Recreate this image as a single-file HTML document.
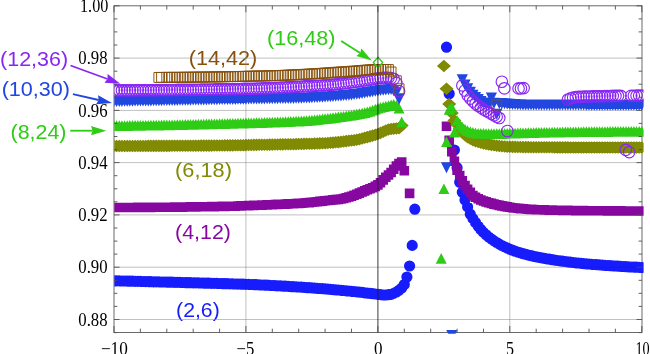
<!DOCTYPE html>
<html><head><meta charset="utf-8"><title>plot</title>
<style>
html,body{margin:0;padding:0;background:#fff;}
body{width:650px;height:354px;overflow:hidden;font-family:"Liberation Sans",sans-serif;}
svg{display:block;will-change:transform;}
</style></head><body>
<svg width="650" height="354" viewBox="0 0 650 354">
<defs><clipPath id="pc"><rect x="114.3" y="5.8" width="529.3" height="327.9"/></clipPath></defs>
<rect width="650" height="354" fill="#fff"/>
<g font-family="'Liberation Sans',sans-serif" font-size="20"><text x="0.1" y="65.7" fill="#8826f5" textLength="68" lengthAdjust="spacingAndGlyphs">(12,36)</text><text x="1.7" y="95.9" fill="#2147e0" textLength="68.3" lengthAdjust="spacingAndGlyphs">(10,30)</text><text x="10.6" y="138.5" fill="#2ecc14" textLength="55.9" lengthAdjust="spacingAndGlyphs">(8,24)</text><text x="175.1" y="176.7" fill="#808a02" textLength="56.8" lengthAdjust="spacingAndGlyphs">(6,18)</text><text x="175.1" y="238.9" fill="#8608a0" textLength="55.8" lengthAdjust="spacingAndGlyphs">(4,12)</text><text x="176.1" y="316.7" fill="#161cfb" textLength="43.6" lengthAdjust="spacingAndGlyphs">(2,6)</text><text x="188.7" y="64.5" fill="#86500a" textLength="68.6" lengthAdjust="spacingAndGlyphs">(14,42)</text><text x="267" y="45.4" fill="#2ecc14" textLength="68.5" lengthAdjust="spacingAndGlyphs">(16,48)</text></g>
<g stroke="#979797" stroke-width="0.9" stroke-opacity="0.53"><line x1="245.9" x2="245.9" y1="5.8" y2="332.5"/><line x1="509.8" x2="509.8" y1="5.8" y2="332.5"/><line x1="114" x2="642" y1="319.5" y2="319.5"/><line x1="114" x2="642" y1="267.2" y2="267.2"/><line x1="114" x2="642" y1="214.9" y2="214.9"/><line x1="114" x2="642" y1="162.6" y2="162.6"/><line x1="114" x2="642" y1="110.4" y2="110.4"/><line x1="114" x2="642" y1="58.1" y2="58.1"/></g><rect x="114" y="5.8" width="528" height="326.7" fill="none" stroke="#6a6a6a" stroke-width="1"/>
<g clip-path="url(#pc)">
<path fill="#161cfb" d="M108.4 280.8a5.6 5.6 0 1 0 11.2 0a5.6 5.6 0 1 0 -11.2 0zM111 280.9a5.6 5.6 0 1 0 11.2 0a5.6 5.6 0 1 0 -11.2 0zM113.7 280.9a5.6 5.6 0 1 0 11.2 0a5.6 5.6 0 1 0 -11.2 0zM116.3 281a5.6 5.6 0 1 0 11.2 0a5.6 5.6 0 1 0 -11.2 0zM119 281a5.6 5.6 0 1 0 11.2 0a5.6 5.6 0 1 0 -11.2 0zM121.6 281.1a5.6 5.6 0 1 0 11.2 0a5.6 5.6 0 1 0 -11.2 0zM124.2 281.2a5.6 5.6 0 1 0 11.2 0a5.6 5.6 0 1 0 -11.2 0zM126.9 281.2a5.6 5.6 0 1 0 11.2 0a5.6 5.6 0 1 0 -11.2 0zM129.5 281.3a5.6 5.6 0 1 0 11.2 0a5.6 5.6 0 1 0 -11.2 0zM132.2 281.4a5.6 5.6 0 1 0 11.2 0a5.6 5.6 0 1 0 -11.2 0zM134.8 281.4a5.6 5.6 0 1 0 11.2 0a5.6 5.6 0 1 0 -11.2 0zM137.4 281.5a5.6 5.6 0 1 0 11.2 0a5.6 5.6 0 1 0 -11.2 0zM140.1 281.6a5.6 5.6 0 1 0 11.2 0a5.6 5.6 0 1 0 -11.2 0zM142.7 281.6a5.6 5.6 0 1 0 11.2 0a5.6 5.6 0 1 0 -11.2 0zM145.3 281.7a5.6 5.6 0 1 0 11.2 0a5.6 5.6 0 1 0 -11.2 0zM148 281.8a5.6 5.6 0 1 0 11.2 0a5.6 5.6 0 1 0 -11.2 0zM150.6 281.8a5.6 5.6 0 1 0 11.2 0a5.6 5.6 0 1 0 -11.2 0zM153.3 281.9a5.6 5.6 0 1 0 11.2 0a5.6 5.6 0 1 0 -11.2 0zM155.9 282a5.6 5.6 0 1 0 11.2 0a5.6 5.6 0 1 0 -11.2 0zM158.5 282a5.6 5.6 0 1 0 11.2 0a5.6 5.6 0 1 0 -11.2 0zM161.2 282.1a5.6 5.6 0 1 0 11.2 0a5.6 5.6 0 1 0 -11.2 0zM163.8 282.2a5.6 5.6 0 1 0 11.2 0a5.6 5.6 0 1 0 -11.2 0zM166.5 282.2a5.6 5.6 0 1 0 11.2 0a5.6 5.6 0 1 0 -11.2 0zM169.1 282.3a5.6 5.6 0 1 0 11.2 0a5.6 5.6 0 1 0 -11.2 0zM171.7 282.4a5.6 5.6 0 1 0 11.2 0a5.6 5.6 0 1 0 -11.2 0zM174.4 282.4a5.6 5.6 0 1 0 11.2 0a5.6 5.6 0 1 0 -11.2 0zM177 282.5a5.6 5.6 0 1 0 11.2 0a5.6 5.6 0 1 0 -11.2 0zM179.7 282.6a5.6 5.6 0 1 0 11.2 0a5.6 5.6 0 1 0 -11.2 0zM182.3 282.7a5.6 5.6 0 1 0 11.2 0a5.6 5.6 0 1 0 -11.2 0zM184.9 282.7a5.6 5.6 0 1 0 11.2 0a5.6 5.6 0 1 0 -11.2 0zM187.6 282.8a5.6 5.6 0 1 0 11.2 0a5.6 5.6 0 1 0 -11.2 0zM190.2 282.9a5.6 5.6 0 1 0 11.2 0a5.6 5.6 0 1 0 -11.2 0zM192.8 282.9a5.6 5.6 0 1 0 11.2 0a5.6 5.6 0 1 0 -11.2 0zM195.5 283a5.6 5.6 0 1 0 11.2 0a5.6 5.6 0 1 0 -11.2 0zM198.1 283.1a5.6 5.6 0 1 0 11.2 0a5.6 5.6 0 1 0 -11.2 0zM200.8 283.2a5.6 5.6 0 1 0 11.2 0a5.6 5.6 0 1 0 -11.2 0zM203.4 283.2a5.6 5.6 0 1 0 11.2 0a5.6 5.6 0 1 0 -11.2 0zM206 283.3a5.6 5.6 0 1 0 11.2 0a5.6 5.6 0 1 0 -11.2 0zM208.7 283.4a5.6 5.6 0 1 0 11.2 0a5.6 5.6 0 1 0 -11.2 0zM211.3 283.4a5.6 5.6 0 1 0 11.2 0a5.6 5.6 0 1 0 -11.2 0zM214 283.5a5.6 5.6 0 1 0 11.2 0a5.6 5.6 0 1 0 -11.2 0zM216.6 283.6a5.6 5.6 0 1 0 11.2 0a5.6 5.6 0 1 0 -11.2 0zM219.2 283.7a5.6 5.6 0 1 0 11.2 0a5.6 5.6 0 1 0 -11.2 0zM221.9 283.7a5.6 5.6 0 1 0 11.2 0a5.6 5.6 0 1 0 -11.2 0zM224.5 283.8a5.6 5.6 0 1 0 11.2 0a5.6 5.6 0 1 0 -11.2 0zM227.2 283.9a5.6 5.6 0 1 0 11.2 0a5.6 5.6 0 1 0 -11.2 0zM229.8 284a5.6 5.6 0 1 0 11.2 0a5.6 5.6 0 1 0 -11.2 0zM232.4 284.1a5.6 5.6 0 1 0 11.2 0a5.6 5.6 0 1 0 -11.2 0zM235.1 284.1a5.6 5.6 0 1 0 11.2 0a5.6 5.6 0 1 0 -11.2 0zM237.7 284.2a5.6 5.6 0 1 0 11.2 0a5.6 5.6 0 1 0 -11.2 0zM240.3 284.3a5.6 5.6 0 1 0 11.2 0a5.6 5.6 0 1 0 -11.2 0zM243 284.4a5.6 5.6 0 1 0 11.2 0a5.6 5.6 0 1 0 -11.2 0zM245.6 284.5a5.6 5.6 0 1 0 11.2 0a5.6 5.6 0 1 0 -11.2 0zM248.3 284.6a5.6 5.6 0 1 0 11.2 0a5.6 5.6 0 1 0 -11.2 0zM250.9 284.7a5.6 5.6 0 1 0 11.2 0a5.6 5.6 0 1 0 -11.2 0zM253.5 284.9a5.6 5.6 0 1 0 11.2 0a5.6 5.6 0 1 0 -11.2 0zM256.2 285a5.6 5.6 0 1 0 11.2 0a5.6 5.6 0 1 0 -11.2 0zM258.8 285.1a5.6 5.6 0 1 0 11.2 0a5.6 5.6 0 1 0 -11.2 0zM261.5 285.2a5.6 5.6 0 1 0 11.2 0a5.6 5.6 0 1 0 -11.2 0zM264.1 285.4a5.6 5.6 0 1 0 11.2 0a5.6 5.6 0 1 0 -11.2 0zM266.7 285.5a5.6 5.6 0 1 0 11.2 0a5.6 5.6 0 1 0 -11.2 0zM269.4 285.6a5.6 5.6 0 1 0 11.2 0a5.6 5.6 0 1 0 -11.2 0zM272 285.8a5.6 5.6 0 1 0 11.2 0a5.6 5.6 0 1 0 -11.2 0zM274.7 285.9a5.6 5.6 0 1 0 11.2 0a5.6 5.6 0 1 0 -11.2 0zM277.3 286.1a5.6 5.6 0 1 0 11.2 0a5.6 5.6 0 1 0 -11.2 0zM279.9 286.2a5.6 5.6 0 1 0 11.2 0a5.6 5.6 0 1 0 -11.2 0zM282.6 286.4a5.6 5.6 0 1 0 11.2 0a5.6 5.6 0 1 0 -11.2 0zM285.2 286.6a5.6 5.6 0 1 0 11.2 0a5.6 5.6 0 1 0 -11.2 0zM287.9 286.7a5.6 5.6 0 1 0 11.2 0a5.6 5.6 0 1 0 -11.2 0zM290.5 286.9a5.6 5.6 0 1 0 11.2 0a5.6 5.6 0 1 0 -11.2 0zM293.1 287a5.6 5.6 0 1 0 11.2 0a5.6 5.6 0 1 0 -11.2 0zM295.8 287.2a5.6 5.6 0 1 0 11.2 0a5.6 5.6 0 1 0 -11.2 0zM298.4 287.4a5.6 5.6 0 1 0 11.2 0a5.6 5.6 0 1 0 -11.2 0zM301 287.6a5.6 5.6 0 1 0 11.2 0a5.6 5.6 0 1 0 -11.2 0zM303.7 287.7a5.6 5.6 0 1 0 11.2 0a5.6 5.6 0 1 0 -11.2 0zM306.3 287.9a5.6 5.6 0 1 0 11.2 0a5.6 5.6 0 1 0 -11.2 0zM309 288.1a5.6 5.6 0 1 0 11.2 0a5.6 5.6 0 1 0 -11.2 0zM311.6 288.3a5.6 5.6 0 1 0 11.2 0a5.6 5.6 0 1 0 -11.2 0zM314.2 288.5a5.6 5.6 0 1 0 11.2 0a5.6 5.6 0 1 0 -11.2 0zM316.9 288.7a5.6 5.6 0 1 0 11.2 0a5.6 5.6 0 1 0 -11.2 0zM319.5 288.9a5.6 5.6 0 1 0 11.2 0a5.6 5.6 0 1 0 -11.2 0zM322.2 289.1a5.6 5.6 0 1 0 11.2 0a5.6 5.6 0 1 0 -11.2 0zM324.8 289.4a5.6 5.6 0 1 0 11.2 0a5.6 5.6 0 1 0 -11.2 0zM327.4 289.6a5.6 5.6 0 1 0 11.2 0a5.6 5.6 0 1 0 -11.2 0zM330.1 289.8a5.6 5.6 0 1 0 11.2 0a5.6 5.6 0 1 0 -11.2 0zM332.7 290a5.6 5.6 0 1 0 11.2 0a5.6 5.6 0 1 0 -11.2 0zM335.4 290.3a5.6 5.6 0 1 0 11.2 0a5.6 5.6 0 1 0 -11.2 0zM338 290.5a5.6 5.6 0 1 0 11.2 0a5.6 5.6 0 1 0 -11.2 0zM340.6 290.8a5.6 5.6 0 1 0 11.2 0a5.6 5.6 0 1 0 -11.2 0zM343.3 291a5.6 5.6 0 1 0 11.2 0a5.6 5.6 0 1 0 -11.2 0zM345.9 291.3a5.6 5.6 0 1 0 11.2 0a5.6 5.6 0 1 0 -11.2 0zM348.5 291.5a5.6 5.6 0 1 0 11.2 0a5.6 5.6 0 1 0 -11.2 0zM351.2 291.8a5.6 5.6 0 1 0 11.2 0a5.6 5.6 0 1 0 -11.2 0zM353.8 292.1a5.6 5.6 0 1 0 11.2 0a5.6 5.6 0 1 0 -11.2 0zM356.5 292.4a5.6 5.6 0 1 0 11.2 0a5.6 5.6 0 1 0 -11.2 0zM359.1 292.8a5.6 5.6 0 1 0 11.2 0a5.6 5.6 0 1 0 -11.2 0zM361.7 293.1a5.6 5.6 0 1 0 11.2 0a5.6 5.6 0 1 0 -11.2 0zM364.4 293.4a5.6 5.6 0 1 0 11.2 0a5.6 5.6 0 1 0 -11.2 0zM367 293.7a5.6 5.6 0 1 0 11.2 0a5.6 5.6 0 1 0 -11.2 0zM369.7 294a5.6 5.6 0 1 0 11.2 0a5.6 5.6 0 1 0 -11.2 0zM372.3 294.3a5.6 5.6 0 1 0 11.2 0a5.6 5.6 0 1 0 -11.2 0zM374.9 294.6a5.6 5.6 0 1 0 11.2 0a5.6 5.6 0 1 0 -11.2 0zM377.6 295a5.6 5.6 0 1 0 11.2 0a5.6 5.6 0 1 0 -11.2 0zM380.2 295a5.6 5.6 0 1 0 11.2 0a5.6 5.6 0 1 0 -11.2 0zM382.9 294.7a5.6 5.6 0 1 0 11.2 0a5.6 5.6 0 1 0 -11.2 0zM385.5 294.3a5.6 5.6 0 1 0 11.2 0a5.6 5.6 0 1 0 -11.2 0zM388.1 293.4a5.6 5.6 0 1 0 11.2 0a5.6 5.6 0 1 0 -11.2 0zM390.8 292a5.6 5.6 0 1 0 11.2 0a5.6 5.6 0 1 0 -11.2 0zM393.4 290.3a5.6 5.6 0 1 0 11.2 0a5.6 5.6 0 1 0 -11.2 0zM396.1 288a5.6 5.6 0 1 0 11.2 0a5.6 5.6 0 1 0 -11.2 0zM398.7 284.5a5.6 5.6 0 1 0 11.2 0a5.6 5.6 0 1 0 -11.2 0zM401.3 277a5.6 5.6 0 1 0 11.2 0a5.6 5.6 0 1 0 -11.2 0zM404 266a5.6 5.6 0 1 0 11.2 0a5.6 5.6 0 1 0 -11.2 0zM406.6 245.4a5.6 5.6 0 1 0 11.2 0a5.6 5.6 0 1 0 -11.2 0zM409.2 209.2a5.6 5.6 0 1 0 11.2 0a5.6 5.6 0 1 0 -11.2 0zM440.9 47.2a5.6 5.6 0 1 0 11.2 0a5.6 5.6 0 1 0 -11.2 0zM443.6 93.7a5.6 5.6 0 1 0 11.2 0a5.6 5.6 0 1 0 -11.2 0zM448.8 150a5.6 5.6 0 1 0 11.2 0a5.6 5.6 0 1 0 -11.2 0zM451.5 167.7a5.6 5.6 0 1 0 11.2 0a5.6 5.6 0 1 0 -11.2 0zM454.1 182.3a5.6 5.6 0 1 0 11.2 0a5.6 5.6 0 1 0 -11.2 0zM456.7 192.3a5.6 5.6 0 1 0 11.2 0a5.6 5.6 0 1 0 -11.2 0zM459.4 200a5.6 5.6 0 1 0 11.2 0a5.6 5.6 0 1 0 -11.2 0zM462 206.9a5.6 5.6 0 1 0 11.2 0a5.6 5.6 0 1 0 -11.2 0zM464.7 214.2a5.6 5.6 0 1 0 11.2 0a5.6 5.6 0 1 0 -11.2 0zM467.3 218.6a5.6 5.6 0 1 0 11.2 0a5.6 5.6 0 1 0 -11.2 0zM469.9 222.5a5.6 5.6 0 1 0 11.2 0a5.6 5.6 0 1 0 -11.2 0zM472.6 226.2a5.6 5.6 0 1 0 11.2 0a5.6 5.6 0 1 0 -11.2 0zM475.2 229.5a5.6 5.6 0 1 0 11.2 0a5.6 5.6 0 1 0 -11.2 0zM477.9 232.4a5.6 5.6 0 1 0 11.2 0a5.6 5.6 0 1 0 -11.2 0zM480.5 234.8a5.6 5.6 0 1 0 11.2 0a5.6 5.6 0 1 0 -11.2 0zM483.1 237a5.6 5.6 0 1 0 11.2 0a5.6 5.6 0 1 0 -11.2 0zM485.8 239a5.6 5.6 0 1 0 11.2 0a5.6 5.6 0 1 0 -11.2 0zM488.4 240.9a5.6 5.6 0 1 0 11.2 0a5.6 5.6 0 1 0 -11.2 0zM491.1 242.5a5.6 5.6 0 1 0 11.2 0a5.6 5.6 0 1 0 -11.2 0zM493.7 244.1a5.6 5.6 0 1 0 11.2 0a5.6 5.6 0 1 0 -11.2 0zM496.3 245.5a5.6 5.6 0 1 0 11.2 0a5.6 5.6 0 1 0 -11.2 0zM499 246.8a5.6 5.6 0 1 0 11.2 0a5.6 5.6 0 1 0 -11.2 0zM501.6 248.1a5.6 5.6 0 1 0 11.2 0a5.6 5.6 0 1 0 -11.2 0zM504.2 249.2a5.6 5.6 0 1 0 11.2 0a5.6 5.6 0 1 0 -11.2 0zM506.9 250.2a5.6 5.6 0 1 0 11.2 0a5.6 5.6 0 1 0 -11.2 0zM509.5 251.2a5.6 5.6 0 1 0 11.2 0a5.6 5.6 0 1 0 -11.2 0zM512.2 252.1a5.6 5.6 0 1 0 11.2 0a5.6 5.6 0 1 0 -11.2 0zM514.8 252.9a5.6 5.6 0 1 0 11.2 0a5.6 5.6 0 1 0 -11.2 0zM517.4 253.7a5.6 5.6 0 1 0 11.2 0a5.6 5.6 0 1 0 -11.2 0zM520.1 254.4a5.6 5.6 0 1 0 11.2 0a5.6 5.6 0 1 0 -11.2 0zM522.7 255.1a5.6 5.6 0 1 0 11.2 0a5.6 5.6 0 1 0 -11.2 0zM525.4 255.7a5.6 5.6 0 1 0 11.2 0a5.6 5.6 0 1 0 -11.2 0zM528 256.3a5.6 5.6 0 1 0 11.2 0a5.6 5.6 0 1 0 -11.2 0zM530.6 256.8a5.6 5.6 0 1 0 11.2 0a5.6 5.6 0 1 0 -11.2 0zM533.3 257.4a5.6 5.6 0 1 0 11.2 0a5.6 5.6 0 1 0 -11.2 0zM535.9 257.9a5.6 5.6 0 1 0 11.2 0a5.6 5.6 0 1 0 -11.2 0zM538.6 258.3a5.6 5.6 0 1 0 11.2 0a5.6 5.6 0 1 0 -11.2 0zM541.2 258.8a5.6 5.6 0 1 0 11.2 0a5.6 5.6 0 1 0 -11.2 0zM543.8 259.2a5.6 5.6 0 1 0 11.2 0a5.6 5.6 0 1 0 -11.2 0zM546.5 259.7a5.6 5.6 0 1 0 11.2 0a5.6 5.6 0 1 0 -11.2 0zM549.1 260.1a5.6 5.6 0 1 0 11.2 0a5.6 5.6 0 1 0 -11.2 0zM551.8 260.5a5.6 5.6 0 1 0 11.2 0a5.6 5.6 0 1 0 -11.2 0zM554.4 260.8a5.6 5.6 0 1 0 11.2 0a5.6 5.6 0 1 0 -11.2 0zM557 261.2a5.6 5.6 0 1 0 11.2 0a5.6 5.6 0 1 0 -11.2 0zM559.7 261.5a5.6 5.6 0 1 0 11.2 0a5.6 5.6 0 1 0 -11.2 0zM562.3 261.9a5.6 5.6 0 1 0 11.2 0a5.6 5.6 0 1 0 -11.2 0zM564.9 262.2a5.6 5.6 0 1 0 11.2 0a5.6 5.6 0 1 0 -11.2 0zM567.6 262.5a5.6 5.6 0 1 0 11.2 0a5.6 5.6 0 1 0 -11.2 0zM570.2 262.8a5.6 5.6 0 1 0 11.2 0a5.6 5.6 0 1 0 -11.2 0zM572.9 263a5.6 5.6 0 1 0 11.2 0a5.6 5.6 0 1 0 -11.2 0zM575.5 263.3a5.6 5.6 0 1 0 11.2 0a5.6 5.6 0 1 0 -11.2 0zM578.1 263.6a5.6 5.6 0 1 0 11.2 0a5.6 5.6 0 1 0 -11.2 0zM580.8 263.8a5.6 5.6 0 1 0 11.2 0a5.6 5.6 0 1 0 -11.2 0zM583.4 264a5.6 5.6 0 1 0 11.2 0a5.6 5.6 0 1 0 -11.2 0zM586.1 264.3a5.6 5.6 0 1 0 11.2 0a5.6 5.6 0 1 0 -11.2 0zM588.7 264.5a5.6 5.6 0 1 0 11.2 0a5.6 5.6 0 1 0 -11.2 0zM591.3 264.7a5.6 5.6 0 1 0 11.2 0a5.6 5.6 0 1 0 -11.2 0zM594 264.9a5.6 5.6 0 1 0 11.2 0a5.6 5.6 0 1 0 -11.2 0zM596.6 265.1a5.6 5.6 0 1 0 11.2 0a5.6 5.6 0 1 0 -11.2 0zM599.3 265.3a5.6 5.6 0 1 0 11.2 0a5.6 5.6 0 1 0 -11.2 0zM601.9 265.5a5.6 5.6 0 1 0 11.2 0a5.6 5.6 0 1 0 -11.2 0zM604.5 265.7a5.6 5.6 0 1 0 11.2 0a5.6 5.6 0 1 0 -11.2 0zM607.2 265.9a5.6 5.6 0 1 0 11.2 0a5.6 5.6 0 1 0 -11.2 0zM609.8 266a5.6 5.6 0 1 0 11.2 0a5.6 5.6 0 1 0 -11.2 0zM612.4 266.2a5.6 5.6 0 1 0 11.2 0a5.6 5.6 0 1 0 -11.2 0zM615.1 266.4a5.6 5.6 0 1 0 11.2 0a5.6 5.6 0 1 0 -11.2 0zM617.7 266.5a5.6 5.6 0 1 0 11.2 0a5.6 5.6 0 1 0 -11.2 0zM620.4 266.7a5.6 5.6 0 1 0 11.2 0a5.6 5.6 0 1 0 -11.2 0zM623 266.8a5.6 5.6 0 1 0 11.2 0a5.6 5.6 0 1 0 -11.2 0zM625.6 267a5.6 5.6 0 1 0 11.2 0a5.6 5.6 0 1 0 -11.2 0zM628.3 267.1a5.6 5.6 0 1 0 11.2 0a5.6 5.6 0 1 0 -11.2 0zM630.9 267.2a5.6 5.6 0 1 0 11.2 0a5.6 5.6 0 1 0 -11.2 0zM633.6 267.4a5.6 5.6 0 1 0 11.2 0a5.6 5.6 0 1 0 -11.2 0zM636.2 267.5a5.6 5.6 0 1 0 11.2 0a5.6 5.6 0 1 0 -11.2 0z"/>
<path fill="#8608a0" d="M109.2 202.7h9.6v9.6h-9.6zM111.8 202.7h9.6v9.6h-9.6zM114.5 202.7h9.6v9.6h-9.6zM117.1 202.7h9.6v9.6h-9.6zM119.8 202.7h9.6v9.6h-9.6zM122.4 202.7h9.6v9.6h-9.6zM125 202.7h9.6v9.6h-9.6zM127.7 202.7h9.6v9.6h-9.6zM130.3 202.7h9.6v9.6h-9.6zM133 202.6h9.6v9.6h-9.6zM135.6 202.6h9.6v9.6h-9.6zM138.2 202.6h9.6v9.6h-9.6zM140.9 202.6h9.6v9.6h-9.6zM143.5 202.6h9.6v9.6h-9.6zM146.1 202.6h9.6v9.6h-9.6zM148.8 202.5h9.6v9.6h-9.6zM151.4 202.5h9.6v9.6h-9.6zM154.1 202.5h9.6v9.6h-9.6zM156.7 202.5h9.6v9.6h-9.6zM159.3 202.5h9.6v9.6h-9.6zM162 202.4h9.6v9.6h-9.6zM164.6 202.4h9.6v9.6h-9.6zM167.3 202.4h9.6v9.6h-9.6zM169.9 202.3h9.6v9.6h-9.6zM172.5 202.3h9.6v9.6h-9.6zM175.2 202.3h9.6v9.6h-9.6zM177.8 202.3h9.6v9.6h-9.6zM180.5 202.2h9.6v9.6h-9.6zM183.1 202.2h9.6v9.6h-9.6zM185.7 202.1h9.6v9.6h-9.6zM188.4 202.1h9.6v9.6h-9.6zM191 202.1h9.6v9.6h-9.6zM193.6 202h9.6v9.6h-9.6zM196.3 202h9.6v9.6h-9.6zM198.9 202h9.6v9.6h-9.6zM201.6 201.9h9.6v9.6h-9.6zM204.2 201.9h9.6v9.6h-9.6zM206.8 201.8h9.6v9.6h-9.6zM209.5 201.8h9.6v9.6h-9.6zM212.1 201.7h9.6v9.6h-9.6zM214.8 201.7h9.6v9.6h-9.6zM217.4 201.6h9.6v9.6h-9.6zM220 201.6h9.6v9.6h-9.6zM222.7 201.5h9.6v9.6h-9.6zM225.3 201.5h9.6v9.6h-9.6zM228 201.4h9.6v9.6h-9.6zM230.6 201.4h9.6v9.6h-9.6zM233.2 201.2h9.6v9.6h-9.6zM235.9 201.1h9.6v9.6h-9.6zM238.5 201h9.6v9.6h-9.6zM241.1 200.9h9.6v9.6h-9.6zM243.8 200.8h9.6v9.6h-9.6zM246.4 200.7h9.6v9.6h-9.6zM249.1 200.6h9.6v9.6h-9.6zM251.7 200.5h9.6v9.6h-9.6zM254.3 200.4h9.6v9.6h-9.6zM257 200.3h9.6v9.6h-9.6zM259.6 200.2h9.6v9.6h-9.6zM262.3 200.1h9.6v9.6h-9.6zM264.9 200h9.6v9.6h-9.6zM267.5 199.9h9.6v9.6h-9.6zM270.2 199.7h9.6v9.6h-9.6zM272.8 199.6h9.6v9.6h-9.6zM275.5 199.5h9.6v9.6h-9.6zM278.1 199.4h9.6v9.6h-9.6zM280.7 199.3h9.6v9.6h-9.6zM283.4 199.1h9.6v9.6h-9.6zM286 199h9.6v9.6h-9.6zM288.7 198.9h9.6v9.6h-9.6zM291.3 198.7h9.6v9.6h-9.6zM293.9 198.6h9.6v9.6h-9.6zM296.6 198.4h9.6v9.6h-9.6zM299.2 198.2h9.6v9.6h-9.6zM301.8 198h9.6v9.6h-9.6zM304.5 197.8h9.6v9.6h-9.6zM307.1 197.5h9.6v9.6h-9.6zM309.8 197.2h9.6v9.6h-9.6zM312.4 196.9h9.6v9.6h-9.6zM315 196.6h9.6v9.6h-9.6zM317.7 196.3h9.6v9.6h-9.6zM320.3 196h9.6v9.6h-9.6zM323 195.7h9.6v9.6h-9.6zM325.6 195.4h9.6v9.6h-9.6zM328.2 195.1h9.6v9.6h-9.6zM330.9 194.8h9.6v9.6h-9.6zM333.5 194.6h9.6v9.6h-9.6zM336.2 194.2h9.6v9.6h-9.6zM338.8 193.7h9.6v9.6h-9.6zM341.4 193h9.6v9.6h-9.6zM344.1 192.2h9.6v9.6h-9.6zM346.7 191.4h9.6v9.6h-9.6zM349.3 190.4h9.6v9.6h-9.6zM352 189.4h9.6v9.6h-9.6zM354.6 188.3h9.6v9.6h-9.6zM357.3 187.2h9.6v9.6h-9.6zM359.9 186.1h9.6v9.6h-9.6zM362.5 185h9.6v9.6h-9.6zM365.2 184h9.6v9.6h-9.6zM367.8 182.9h9.6v9.6h-9.6zM370.5 181.6h9.6v9.6h-9.6zM373.1 180.1h9.6v9.6h-9.6zM375.7 177.9h9.6v9.6h-9.6zM378.4 175.1h9.6v9.6h-9.6zM381 172.4h9.6v9.6h-9.6zM383.7 170.2h9.6v9.6h-9.6zM386.3 167.7h9.6v9.6h-9.6zM388.9 164.5h9.6v9.6h-9.6zM391.6 161.2h9.6v9.6h-9.6zM394.2 158.7h9.6v9.6h-9.6zM396.9 157.2h9.6v9.6h-9.6zM399.5 165.9h9.6v9.6h-9.6zM404.8 188.6h9.6v9.6h-9.6zM441.7 121.5h9.6v9.6h-9.6zM444.4 135.6h9.6v9.6h-9.6zM447 146.8h9.6v9.6h-9.6zM449.6 156.5h9.6v9.6h-9.6zM452.3 165.3h9.6v9.6h-9.6zM454.9 170.7h9.6v9.6h-9.6zM457.5 176.1h9.6v9.6h-9.6zM460.2 180.7h9.6v9.6h-9.6zM462.8 184.5h9.6v9.6h-9.6zM465.5 187.6h9.6v9.6h-9.6zM468.1 190.7h9.6v9.6h-9.6zM470.7 192.5h9.6v9.6h-9.6zM473.4 194h9.6v9.6h-9.6zM476 195.2h9.6v9.6h-9.6zM478.7 196.2h9.6v9.6h-9.6zM481.3 197.1h9.6v9.6h-9.6zM483.9 197.9h9.6v9.6h-9.6zM486.6 198.6h9.6v9.6h-9.6zM489.2 199.3h9.6v9.6h-9.6zM491.9 200h9.6v9.6h-9.6zM494.5 200.6h9.6v9.6h-9.6zM497.1 201.1h9.6v9.6h-9.6zM499.8 201.6h9.6v9.6h-9.6zM502.4 202.1h9.6v9.6h-9.6zM505 202.5h9.6v9.6h-9.6zM507.7 202.9h9.6v9.6h-9.6zM510.3 203.2h9.6v9.6h-9.6zM513 203.5h9.6v9.6h-9.6zM515.6 203.8h9.6v9.6h-9.6zM518.2 204h9.6v9.6h-9.6zM520.9 204.2h9.6v9.6h-9.6zM523.5 204.4h9.6v9.6h-9.6zM526.2 204.6h9.6v9.6h-9.6zM528.8 204.7h9.6v9.6h-9.6zM531.4 204.9h9.6v9.6h-9.6zM534.1 205h9.6v9.6h-9.6zM536.7 205h9.6v9.6h-9.6zM539.4 205.1h9.6v9.6h-9.6zM542 205.2h9.6v9.6h-9.6zM544.6 205.3h9.6v9.6h-9.6zM547.3 205.3h9.6v9.6h-9.6zM549.9 205.4h9.6v9.6h-9.6zM552.6 205.4h9.6v9.6h-9.6zM555.2 205.5h9.6v9.6h-9.6zM557.8 205.6h9.6v9.6h-9.6zM560.5 205.6h9.6v9.6h-9.6zM563.1 205.6h9.6v9.6h-9.6zM565.7 205.7h9.6v9.6h-9.6zM568.4 205.7h9.6v9.6h-9.6zM571 205.8h9.6v9.6h-9.6zM573.7 205.8h9.6v9.6h-9.6zM576.3 205.8h9.6v9.6h-9.6zM578.9 205.8h9.6v9.6h-9.6zM581.6 205.9h9.6v9.6h-9.6zM584.2 205.9h9.6v9.6h-9.6zM586.9 205.9h9.6v9.6h-9.6zM589.5 205.9h9.6v9.6h-9.6zM592.1 206h9.6v9.6h-9.6zM594.8 206h9.6v9.6h-9.6zM597.4 206h9.6v9.6h-9.6zM600.1 206h9.6v9.6h-9.6zM602.7 206.1h9.6v9.6h-9.6zM605.3 206.1h9.6v9.6h-9.6zM608 206.1h9.6v9.6h-9.6zM610.6 206.1h9.6v9.6h-9.6zM613.2 206.1h9.6v9.6h-9.6zM615.9 206.1h9.6v9.6h-9.6zM618.5 206.2h9.6v9.6h-9.6zM621.2 206.2h9.6v9.6h-9.6zM623.8 206.2h9.6v9.6h-9.6zM626.4 206.2h9.6v9.6h-9.6zM629.1 206.2h9.6v9.6h-9.6zM631.7 206.2h9.6v9.6h-9.6zM634.4 206.2h9.6v9.6h-9.6zM637 206.2h9.6v9.6h-9.6z"/>
<path fill="#808a02" d="M114 139.7l7.0 6.3l-7.0 6.3l-7.0 -6.3zM116.6 139.7l7.0 6.3l-7.0 6.3l-7.0 -6.3zM119.3 139.7l7.0 6.3l-7.0 6.3l-7.0 -6.3zM121.9 139.7l7.0 6.3l-7.0 6.3l-7.0 -6.3zM124.6 139.7l7.0 6.3l-7.0 6.3l-7.0 -6.3zM127.2 139.7l7.0 6.3l-7.0 6.3l-7.0 -6.3zM129.8 139.7l7.0 6.3l-7.0 6.3l-7.0 -6.3zM132.5 139.7l7.0 6.3l-7.0 6.3l-7.0 -6.3zM135.1 139.7l7.0 6.3l-7.0 6.3l-7.0 -6.3zM137.8 139.7l7.0 6.3l-7.0 6.3l-7.0 -6.3zM140.4 139.7l7.0 6.3l-7.0 6.3l-7.0 -6.3zM143 139.7l7.0 6.3l-7.0 6.3l-7.0 -6.3zM145.7 139.7l7.0 6.3l-7.0 6.3l-7.0 -6.3zM148.3 139.6l7.0 6.3l-7.0 6.3l-7.0 -6.3zM150.9 139.6l7.0 6.3l-7.0 6.3l-7.0 -6.3zM153.6 139.6l7.0 6.3l-7.0 6.3l-7.0 -6.3zM156.2 139.6l7.0 6.3l-7.0 6.3l-7.0 -6.3zM158.9 139.6l7.0 6.3l-7.0 6.3l-7.0 -6.3zM161.5 139.6l7.0 6.3l-7.0 6.3l-7.0 -6.3zM164.1 139.6l7.0 6.3l-7.0 6.3l-7.0 -6.3zM166.8 139.6l7.0 6.3l-7.0 6.3l-7.0 -6.3zM169.4 139.6l7.0 6.3l-7.0 6.3l-7.0 -6.3zM172.1 139.5l7.0 6.3l-7.0 6.3l-7.0 -6.3zM174.7 139.5l7.0 6.3l-7.0 6.3l-7.0 -6.3zM177.3 139.5l7.0 6.3l-7.0 6.3l-7.0 -6.3zM180 139.5l7.0 6.3l-7.0 6.3l-7.0 -6.3zM182.6 139.5l7.0 6.3l-7.0 6.3l-7.0 -6.3zM185.3 139.5l7.0 6.3l-7.0 6.3l-7.0 -6.3zM187.9 139.4l7.0 6.3l-7.0 6.3l-7.0 -6.3zM190.5 139.4l7.0 6.3l-7.0 6.3l-7.0 -6.3zM193.2 139.4l7.0 6.3l-7.0 6.3l-7.0 -6.3zM195.8 139.4l7.0 6.3l-7.0 6.3l-7.0 -6.3zM198.4 139.4l7.0 6.3l-7.0 6.3l-7.0 -6.3zM201.1 139.3l7.0 6.3l-7.0 6.3l-7.0 -6.3zM203.7 139.3l7.0 6.3l-7.0 6.3l-7.0 -6.3zM206.4 139.3l7.0 6.3l-7.0 6.3l-7.0 -6.3zM209 139.3l7.0 6.3l-7.0 6.3l-7.0 -6.3zM211.6 139.3l7.0 6.3l-7.0 6.3l-7.0 -6.3zM214.3 139.2l7.0 6.3l-7.0 6.3l-7.0 -6.3zM216.9 139.2l7.0 6.3l-7.0 6.3l-7.0 -6.3zM219.6 139.2l7.0 6.3l-7.0 6.3l-7.0 -6.3zM222.2 139.2l7.0 6.3l-7.0 6.3l-7.0 -6.3zM224.8 139.1l7.0 6.3l-7.0 6.3l-7.0 -6.3zM227.5 139.1l7.0 6.3l-7.0 6.3l-7.0 -6.3zM230.1 139.1l7.0 6.3l-7.0 6.3l-7.0 -6.3zM232.8 139.1l7.0 6.3l-7.0 6.3l-7.0 -6.3zM235.4 139l7.0 6.3l-7.0 6.3l-7.0 -6.3zM238 139l7.0 6.3l-7.0 6.3l-7.0 -6.3zM240.7 138.9l7.0 6.3l-7.0 6.3l-7.0 -6.3zM243.3 138.9l7.0 6.3l-7.0 6.3l-7.0 -6.3zM245.9 138.8l7.0 6.3l-7.0 6.3l-7.0 -6.3zM248.6 138.7l7.0 6.3l-7.0 6.3l-7.0 -6.3zM251.2 138.7l7.0 6.3l-7.0 6.3l-7.0 -6.3zM253.9 138.6l7.0 6.3l-7.0 6.3l-7.0 -6.3zM256.5 138.6l7.0 6.3l-7.0 6.3l-7.0 -6.3zM259.1 138.5l7.0 6.3l-7.0 6.3l-7.0 -6.3zM261.8 138.5l7.0 6.3l-7.0 6.3l-7.0 -6.3zM264.4 138.4l7.0 6.3l-7.0 6.3l-7.0 -6.3zM267.1 138.4l7.0 6.3l-7.0 6.3l-7.0 -6.3zM269.7 138.3l7.0 6.3l-7.0 6.3l-7.0 -6.3zM272.3 138.3l7.0 6.3l-7.0 6.3l-7.0 -6.3zM275 138.2l7.0 6.3l-7.0 6.3l-7.0 -6.3zM277.6 138.2l7.0 6.3l-7.0 6.3l-7.0 -6.3zM280.3 138.1l7.0 6.3l-7.0 6.3l-7.0 -6.3zM282.9 138.1l7.0 6.3l-7.0 6.3l-7.0 -6.3zM285.5 138l7.0 6.3l-7.0 6.3l-7.0 -6.3zM288.2 138l7.0 6.3l-7.0 6.3l-7.0 -6.3zM290.8 137.9l7.0 6.3l-7.0 6.3l-7.0 -6.3zM293.5 137.9l7.0 6.3l-7.0 6.3l-7.0 -6.3zM296.1 137.8l7.0 6.3l-7.0 6.3l-7.0 -6.3zM298.7 137.7l7.0 6.3l-7.0 6.3l-7.0 -6.3zM301.4 137.7l7.0 6.3l-7.0 6.3l-7.0 -6.3zM304 137.6l7.0 6.3l-7.0 6.3l-7.0 -6.3zM306.6 137.5l7.0 6.3l-7.0 6.3l-7.0 -6.3zM309.3 137.5l7.0 6.3l-7.0 6.3l-7.0 -6.3zM311.9 137.4l7.0 6.3l-7.0 6.3l-7.0 -6.3zM314.6 137.3l7.0 6.3l-7.0 6.3l-7.0 -6.3zM317.2 137.2l7.0 6.3l-7.0 6.3l-7.0 -6.3zM319.8 137.1l7.0 6.3l-7.0 6.3l-7.0 -6.3zM322.5 137l7.0 6.3l-7.0 6.3l-7.0 -6.3zM325.1 136.9l7.0 6.3l-7.0 6.3l-7.0 -6.3zM327.8 136.7l7.0 6.3l-7.0 6.3l-7.0 -6.3zM330.4 136.5l7.0 6.3l-7.0 6.3l-7.0 -6.3zM333 136.3l7.0 6.3l-7.0 6.3l-7.0 -6.3zM335.7 136l7.0 6.3l-7.0 6.3l-7.0 -6.3zM338.3 135.8l7.0 6.3l-7.0 6.3l-7.0 -6.3zM341 135.5l7.0 6.3l-7.0 6.3l-7.0 -6.3zM343.6 135.2l7.0 6.3l-7.0 6.3l-7.0 -6.3zM346.2 134.8l7.0 6.3l-7.0 6.3l-7.0 -6.3zM348.9 134.5l7.0 6.3l-7.0 6.3l-7.0 -6.3zM351.5 134.2l7.0 6.3l-7.0 6.3l-7.0 -6.3zM354.1 133.9l7.0 6.3l-7.0 6.3l-7.0 -6.3zM356.8 133.5l7.0 6.3l-7.0 6.3l-7.0 -6.3zM359.4 132.9l7.0 6.3l-7.0 6.3l-7.0 -6.3zM362.1 132.2l7.0 6.3l-7.0 6.3l-7.0 -6.3zM364.7 131.5l7.0 6.3l-7.0 6.3l-7.0 -6.3zM367.3 130.8l7.0 6.3l-7.0 6.3l-7.0 -6.3zM370 130.1l7.0 6.3l-7.0 6.3l-7.0 -6.3zM372.6 129.3l7.0 6.3l-7.0 6.3l-7.0 -6.3zM375.3 128.6l7.0 6.3l-7.0 6.3l-7.0 -6.3zM377.9 127.7l7.0 6.3l-7.0 6.3l-7.0 -6.3zM380.5 126.6l7.0 6.3l-7.0 6.3l-7.0 -6.3zM383.2 125.4l7.0 6.3l-7.0 6.3l-7.0 -6.3zM385.8 124.2l7.0 6.3l-7.0 6.3l-7.0 -6.3zM388.5 123.2l7.0 6.3l-7.0 6.3l-7.0 -6.3zM391.1 122.7l7.0 6.3l-7.0 6.3l-7.0 -6.3zM393.7 122.4l7.0 6.3l-7.0 6.3l-7.0 -6.3zM396.4 122.2l7.0 6.3l-7.0 6.3l-7.0 -6.3zM399 122l7.0 6.3l-7.0 6.3l-7.0 -6.3zM401.7 119.2l7.0 6.3l-7.0 6.3l-7.0 -6.3zM443.9 59.7l7.0 6.3l-7.0 6.3l-7.0 -6.3zM446.5 82.4l7.0 6.3l-7.0 6.3l-7.0 -6.3zM449.2 97.8l7.0 6.3l-7.0 6.3l-7.0 -6.3zM451.8 106.7l7.0 6.3l-7.0 6.3l-7.0 -6.3zM454.4 114.2l7.0 6.3l-7.0 6.3l-7.0 -6.3zM457.1 118.2l7.0 6.3l-7.0 6.3l-7.0 -6.3zM459.7 122.2l7.0 6.3l-7.0 6.3l-7.0 -6.3zM462.3 126.4l7.0 6.3l-7.0 6.3l-7.0 -6.3zM465 129l7.0 6.3l-7.0 6.3l-7.0 -6.3zM467.6 131l7.0 6.3l-7.0 6.3l-7.0 -6.3zM470.3 132.5l7.0 6.3l-7.0 6.3l-7.0 -6.3zM472.9 133.8l7.0 6.3l-7.0 6.3l-7.0 -6.3zM475.5 134.8l7.0 6.3l-7.0 6.3l-7.0 -6.3zM478.2 135.7l7.0 6.3l-7.0 6.3l-7.0 -6.3zM480.8 136.5l7.0 6.3l-7.0 6.3l-7.0 -6.3zM483.5 137.2l7.0 6.3l-7.0 6.3l-7.0 -6.3zM486.1 137.7l7.0 6.3l-7.0 6.3l-7.0 -6.3zM488.7 138.1l7.0 6.3l-7.0 6.3l-7.0 -6.3zM491.4 138.6l7.0 6.3l-7.0 6.3l-7.0 -6.3zM494 139l7.0 6.3l-7.0 6.3l-7.0 -6.3zM496.7 139.4l7.0 6.3l-7.0 6.3l-7.0 -6.3zM499.3 139.7l7.0 6.3l-7.0 6.3l-7.0 -6.3zM501.9 140l7.0 6.3l-7.0 6.3l-7.0 -6.3zM504.6 140.2l7.0 6.3l-7.0 6.3l-7.0 -6.3zM507.2 140.4l7.0 6.3l-7.0 6.3l-7.0 -6.3zM509.8 140.5l7.0 6.3l-7.0 6.3l-7.0 -6.3zM512.5 140.6l7.0 6.3l-7.0 6.3l-7.0 -6.3zM515.1 140.6l7.0 6.3l-7.0 6.3l-7.0 -6.3zM517.8 140.7l7.0 6.3l-7.0 6.3l-7.0 -6.3zM520.4 140.7l7.0 6.3l-7.0 6.3l-7.0 -6.3zM523 140.8l7.0 6.3l-7.0 6.3l-7.0 -6.3zM525.7 140.8l7.0 6.3l-7.0 6.3l-7.0 -6.3zM528.3 140.8l7.0 6.3l-7.0 6.3l-7.0 -6.3zM531 140.9l7.0 6.3l-7.0 6.3l-7.0 -6.3zM533.6 140.9l7.0 6.3l-7.0 6.3l-7.0 -6.3zM536.2 140.9l7.0 6.3l-7.0 6.3l-7.0 -6.3zM538.9 140.9l7.0 6.3l-7.0 6.3l-7.0 -6.3zM541.5 140.9l7.0 6.3l-7.0 6.3l-7.0 -6.3zM544.2 141l7.0 6.3l-7.0 6.3l-7.0 -6.3zM546.8 141l7.0 6.3l-7.0 6.3l-7.0 -6.3zM549.4 141l7.0 6.3l-7.0 6.3l-7.0 -6.3zM552.1 141l7.0 6.3l-7.0 6.3l-7.0 -6.3zM554.7 141.1l7.0 6.3l-7.0 6.3l-7.0 -6.3zM557.4 141.1l7.0 6.3l-7.0 6.3l-7.0 -6.3zM560 141.1l7.0 6.3l-7.0 6.3l-7.0 -6.3zM562.6 141.1l7.0 6.3l-7.0 6.3l-7.0 -6.3zM565.3 141.1l7.0 6.3l-7.0 6.3l-7.0 -6.3zM567.9 141.1l7.0 6.3l-7.0 6.3l-7.0 -6.3zM570.5 141.2l7.0 6.3l-7.0 6.3l-7.0 -6.3zM573.2 141.2l7.0 6.3l-7.0 6.3l-7.0 -6.3zM575.8 141.2l7.0 6.3l-7.0 6.3l-7.0 -6.3zM578.5 141.2l7.0 6.3l-7.0 6.3l-7.0 -6.3zM581.1 141.2l7.0 6.3l-7.0 6.3l-7.0 -6.3zM583.7 141.2l7.0 6.3l-7.0 6.3l-7.0 -6.3zM586.4 141.2l7.0 6.3l-7.0 6.3l-7.0 -6.3zM589 141.2l7.0 6.3l-7.0 6.3l-7.0 -6.3zM591.7 141.2l7.0 6.3l-7.0 6.3l-7.0 -6.3zM594.3 141.2l7.0 6.3l-7.0 6.3l-7.0 -6.3zM596.9 141.2l7.0 6.3l-7.0 6.3l-7.0 -6.3zM599.6 141.2l7.0 6.3l-7.0 6.3l-7.0 -6.3zM602.2 141.2l7.0 6.3l-7.0 6.3l-7.0 -6.3zM604.9 141.2l7.0 6.3l-7.0 6.3l-7.0 -6.3zM607.5 141.2l7.0 6.3l-7.0 6.3l-7.0 -6.3zM610.1 141.2l7.0 6.3l-7.0 6.3l-7.0 -6.3zM612.8 141.2l7.0 6.3l-7.0 6.3l-7.0 -6.3zM615.4 141.2l7.0 6.3l-7.0 6.3l-7.0 -6.3zM618 141.2l7.0 6.3l-7.0 6.3l-7.0 -6.3zM620.7 141.2l7.0 6.3l-7.0 6.3l-7.0 -6.3zM623.3 141.2l7.0 6.3l-7.0 6.3l-7.0 -6.3zM626 141.2l7.0 6.3l-7.0 6.3l-7.0 -6.3zM628.6 141.2l7.0 6.3l-7.0 6.3l-7.0 -6.3zM631.2 141.2l7.0 6.3l-7.0 6.3l-7.0 -6.3zM633.9 141.2l7.0 6.3l-7.0 6.3l-7.0 -6.3zM636.5 141.2l7.0 6.3l-7.0 6.3l-7.0 -6.3zM639.2 141.2l7.0 6.3l-7.0 6.3l-7.0 -6.3zM641.8 141.2l7.0 6.3l-7.0 6.3l-7.0 -6.3z"/>
<path fill="#2ecc14" d="M114 120.3l5.5 10.7h-11.0zM116.6 120.3l5.5 10.7h-11.0zM119.3 120.3l5.5 10.7h-11.0zM121.9 120.2l5.5 10.7h-11.0zM124.6 120.2l5.5 10.7h-11.0zM127.2 120.2l5.5 10.7h-11.0zM129.8 120.1l5.5 10.7h-11.0zM132.5 120.1l5.5 10.7h-11.0zM135.1 120.1l5.5 10.7h-11.0zM137.8 120l5.5 10.7h-11.0zM140.4 120l5.5 10.7h-11.0zM143 119.9l5.5 10.7h-11.0zM145.7 119.9l5.5 10.7h-11.0zM148.3 119.9l5.5 10.7h-11.0zM150.9 119.8l5.5 10.7h-11.0zM153.6 119.8l5.5 10.7h-11.0zM156.2 119.7l5.5 10.7h-11.0zM158.9 119.7l5.5 10.7h-11.0zM161.5 119.6l5.5 10.7h-11.0zM164.1 119.6l5.5 10.7h-11.0zM166.8 119.5l5.5 10.7h-11.0zM169.4 119.5l5.5 10.7h-11.0zM172.1 119.4l5.5 10.7h-11.0zM174.7 119.4l5.5 10.7h-11.0zM177.3 119.3l5.5 10.7h-11.0zM180 119.3l5.5 10.7h-11.0zM182.6 119.2l5.5 10.7h-11.0zM185.3 119.1l5.5 10.7h-11.0zM187.9 119.1l5.5 10.7h-11.0zM190.5 119l5.5 10.7h-11.0zM193.2 119l5.5 10.7h-11.0zM195.8 118.9l5.5 10.7h-11.0zM198.4 118.8l5.5 10.7h-11.0zM201.1 118.8l5.5 10.7h-11.0zM203.7 118.7l5.5 10.7h-11.0zM206.4 118.6l5.5 10.7h-11.0zM209 118.6l5.5 10.7h-11.0zM211.6 118.5l5.5 10.7h-11.0zM214.3 118.4l5.5 10.7h-11.0zM216.9 118.4l5.5 10.7h-11.0zM219.6 118.3l5.5 10.7h-11.0zM222.2 118.2l5.5 10.7h-11.0zM224.8 118.2l5.5 10.7h-11.0zM227.5 118.1l5.5 10.7h-11.0zM230.1 118l5.5 10.7h-11.0zM232.8 118l5.5 10.7h-11.0zM235.4 117.9l5.5 10.7h-11.0zM238 117.8l5.5 10.7h-11.0zM240.7 117.7l5.5 10.7h-11.0zM243.3 117.7l5.5 10.7h-11.0zM245.9 117.6l5.5 10.7h-11.0zM248.6 117.5l5.5 10.7h-11.0zM251.2 117.5l5.5 10.7h-11.0zM253.9 117.4l5.5 10.7h-11.0zM256.5 117.3l5.5 10.7h-11.0zM259.1 117.2l5.5 10.7h-11.0zM261.8 117.2l5.5 10.7h-11.0zM264.4 117.1l5.5 10.7h-11.0zM267.1 117l5.5 10.7h-11.0zM269.7 116.9l5.5 10.7h-11.0zM272.3 116.8l5.5 10.7h-11.0zM275 116.7l5.5 10.7h-11.0zM277.6 116.6l5.5 10.7h-11.0zM280.3 116.5l5.5 10.7h-11.0zM282.9 116.4l5.5 10.7h-11.0zM285.5 116.3l5.5 10.7h-11.0zM288.2 116.2l5.5 10.7h-11.0zM290.8 116.1l5.5 10.7h-11.0zM293.5 115.9l5.5 10.7h-11.0zM296.1 115.8l5.5 10.7h-11.0zM298.7 115.7l5.5 10.7h-11.0zM301.4 115.5l5.5 10.7h-11.0zM304 115.4l5.5 10.7h-11.0zM306.6 115.2l5.5 10.7h-11.0zM309.3 115l5.5 10.7h-11.0zM311.9 114.7l5.5 10.7h-11.0zM314.6 114.5l5.5 10.7h-11.0zM317.2 114.2l5.5 10.7h-11.0zM319.8 113.9l5.5 10.7h-11.0zM322.5 113.6l5.5 10.7h-11.0zM325.1 113.3l5.5 10.7h-11.0zM327.8 113l5.5 10.7h-11.0zM330.4 112.7l5.5 10.7h-11.0zM333 112.3l5.5 10.7h-11.0zM335.7 112l5.5 10.7h-11.0zM338.3 111.6l5.5 10.7h-11.0zM341 111.2l5.5 10.7h-11.0zM343.6 110.9l5.5 10.7h-11.0zM346.2 110.5l5.5 10.7h-11.0zM348.9 110.1l5.5 10.7h-11.0zM351.5 109.7l5.5 10.7h-11.0zM354.1 109.3l5.5 10.7h-11.0zM356.8 108.8l5.5 10.7h-11.0zM359.4 108.3l5.5 10.7h-11.0zM362.1 107.8l5.5 10.7h-11.0zM364.7 107.2l5.5 10.7h-11.0zM367.3 106.6l5.5 10.7h-11.0zM370 105.8l5.5 10.7h-11.0zM372.6 104.7l5.5 10.7h-11.0zM375.3 103.7l5.5 10.7h-11.0zM377.9 102.8l5.5 10.7h-11.0zM380.5 102.1l5.5 10.7h-11.0zM383.2 101.4l5.5 10.7h-11.0zM385.8 100.7l5.5 10.7h-11.0zM388.5 100.2l5.5 10.7h-11.0zM391.1 99.6l5.5 10.7h-11.0zM393.7 99.1l5.5 10.7h-11.0zM396.4 100l5.5 10.7h-11.0zM399 102.8l5.5 10.7h-11.0zM401.7 116.5l5.5 10.7h-11.0zM441.2 253l5.5 10.7h-11.0zM443.9 183.4l5.5 10.7h-11.0zM446.5 136.3l5.5 10.7h-11.0zM449.2 104l5.5 10.7h-11.0zM451.8 102l5.5 10.7h-11.0zM454.4 126.7l5.5 10.7h-11.0zM457.1 115l5.5 10.7h-11.0zM459.7 119.1l5.5 10.7h-11.0zM462.3 121.7l5.5 10.7h-11.0zM465 123.7l5.5 10.7h-11.0zM467.6 125.3l5.5 10.7h-11.0zM470.3 126.3l5.5 10.7h-11.0zM472.9 127l5.5 10.7h-11.0zM475.5 127.6l5.5 10.7h-11.0zM478.2 128l5.5 10.7h-11.0zM480.8 128.1l5.5 10.7h-11.0zM483.5 128.1l5.5 10.7h-11.0zM486.1 128.2l5.5 10.7h-11.0zM488.7 128.2l5.5 10.7h-11.0zM491.4 128.3l5.5 10.7h-11.0zM494 128.3l5.5 10.7h-11.0zM496.7 128.3l5.5 10.7h-11.0zM499.3 128.3l5.5 10.7h-11.0zM501.9 128.2l5.5 10.7h-11.0zM504.6 128l5.5 10.7h-11.0zM507.2 127.9l5.5 10.7h-11.0zM509.8 127.8l5.5 10.7h-11.0zM512.5 127.7l5.5 10.7h-11.0zM515.1 127.7l5.5 10.7h-11.0zM517.8 127.6l5.5 10.7h-11.0zM520.4 127.5l5.5 10.7h-11.0zM523 127.5l5.5 10.7h-11.0zM525.7 127.4l5.5 10.7h-11.0zM528.3 127.3l5.5 10.7h-11.0zM531 127.3l5.5 10.7h-11.0zM533.6 127.2l5.5 10.7h-11.0zM536.2 127.1l5.5 10.7h-11.0zM538.9 127.1l5.5 10.7h-11.0zM541.5 127l5.5 10.7h-11.0zM544.2 127l5.5 10.7h-11.0zM546.8 126.9l5.5 10.7h-11.0zM549.4 126.9l5.5 10.7h-11.0zM552.1 126.8l5.5 10.7h-11.0zM554.7 126.8l5.5 10.7h-11.0zM557.4 126.7l5.5 10.7h-11.0zM560 126.7l5.5 10.7h-11.0zM562.6 126.6l5.5 10.7h-11.0zM565.3 126.6l5.5 10.7h-11.0zM567.9 126.5l5.5 10.7h-11.0zM570.5 126.5l5.5 10.7h-11.0zM573.2 126.5l5.5 10.7h-11.0zM575.8 126.4l5.5 10.7h-11.0zM578.5 126.4l5.5 10.7h-11.0zM581.1 126.4l5.5 10.7h-11.0zM583.7 126.3l5.5 10.7h-11.0zM586.4 126.3l5.5 10.7h-11.0zM589 126.3l5.5 10.7h-11.0zM591.7 126.3l5.5 10.7h-11.0zM594.3 126.3l5.5 10.7h-11.0zM596.9 126.2l5.5 10.7h-11.0zM599.6 126.2l5.5 10.7h-11.0zM602.2 126.2l5.5 10.7h-11.0zM604.9 126.2l5.5 10.7h-11.0zM607.5 126.2l5.5 10.7h-11.0zM610.1 126.1l5.5 10.7h-11.0zM612.8 126.1l5.5 10.7h-11.0zM615.4 126.1l5.5 10.7h-11.0zM618 126.1l5.5 10.7h-11.0zM620.7 126.1l5.5 10.7h-11.0zM623.3 126.1l5.5 10.7h-11.0zM626 126l5.5 10.7h-11.0zM628.6 126l5.5 10.7h-11.0zM631.2 126l5.5 10.7h-11.0zM633.9 126l5.5 10.7h-11.0zM636.5 126l5.5 10.7h-11.0zM639.2 126l5.5 10.7h-11.0zM641.8 126l5.5 10.7h-11.0z"/>
<path fill="#2147e0" d="M108.4 96h11.2l-5.6 11.0zM111 96h11.2l-5.6 11.0zM113.7 95.9h11.2l-5.6 11.0zM116.3 95.9h11.2l-5.6 11.0zM119 95.8h11.2l-5.6 11.0zM121.6 95.8h11.2l-5.6 11.0zM124.2 95.7h11.2l-5.6 11.0zM126.9 95.7h11.2l-5.6 11.0zM129.5 95.6h11.2l-5.6 11.0zM132.2 95.6h11.2l-5.6 11.0zM134.8 95.5h11.2l-5.6 11.0zM137.4 95.5h11.2l-5.6 11.0zM140.1 95.4h11.2l-5.6 11.0zM142.7 95.4h11.2l-5.6 11.0zM145.3 95.4h11.2l-5.6 11.0zM148 95.3h11.2l-5.6 11.0zM150.6 95.3h11.2l-5.6 11.0zM153.3 95.2h11.2l-5.6 11.0zM155.9 95.2h11.2l-5.6 11.0zM158.5 95.1h11.2l-5.6 11.0zM161.2 95.1h11.2l-5.6 11.0zM163.8 95h11.2l-5.6 11.0zM166.5 95h11.2l-5.6 11.0zM169.1 94.9h11.2l-5.6 11.0zM171.7 94.9h11.2l-5.6 11.0zM174.4 94.8h11.2l-5.6 11.0zM177 94.8h11.2l-5.6 11.0zM179.7 94.7h11.2l-5.6 11.0zM182.3 94.7h11.2l-5.6 11.0zM184.9 94.7h11.2l-5.6 11.0zM187.6 94.6h11.2l-5.6 11.0zM190.2 94.6h11.2l-5.6 11.0zM192.8 94.5h11.2l-5.6 11.0zM195.5 94.5h11.2l-5.6 11.0zM198.1 94.4h11.2l-5.6 11.0zM200.8 94.4h11.2l-5.6 11.0zM203.4 94.3h11.2l-5.6 11.0zM206 94.3h11.2l-5.6 11.0zM208.7 94.2h11.2l-5.6 11.0zM211.3 94.2h11.2l-5.6 11.0zM214 94.1h11.2l-5.6 11.0zM216.6 94.1h11.2l-5.6 11.0zM219.2 94h11.2l-5.6 11.0zM221.9 94h11.2l-5.6 11.0zM224.5 94h11.2l-5.6 11.0zM227.2 93.9h11.2l-5.6 11.0zM229.8 93.9h11.2l-5.6 11.0zM232.4 93.8h11.2l-5.6 11.0zM235.1 93.8h11.2l-5.6 11.0zM237.7 93.7h11.2l-5.6 11.0zM240.3 93.7h11.2l-5.6 11.0zM243 93.6h11.2l-5.6 11.0zM245.6 93.6h11.2l-5.6 11.0zM248.3 93.5h11.2l-5.6 11.0zM250.9 93.5h11.2l-5.6 11.0zM253.5 93.4h11.2l-5.6 11.0zM256.2 93.4h11.2l-5.6 11.0zM258.8 93.4h11.2l-5.6 11.0zM261.5 93.3h11.2l-5.6 11.0zM264.1 93.3h11.2l-5.6 11.0zM266.7 93.3h11.2l-5.6 11.0zM269.4 93.2h11.2l-5.6 11.0zM272 93.2h11.2l-5.6 11.0zM274.7 93.1h11.2l-5.6 11.0zM277.3 93.1h11.2l-5.6 11.0zM279.9 93h11.2l-5.6 11.0zM282.6 93h11.2l-5.6 11.0zM285.2 92.9h11.2l-5.6 11.0zM287.9 92.9h11.2l-5.6 11.0zM290.5 92.8h11.2l-5.6 11.0zM293.1 92.7h11.2l-5.6 11.0zM295.8 92.7h11.2l-5.6 11.0zM298.4 92.6h11.2l-5.6 11.0zM301 92.5h11.2l-5.6 11.0zM303.7 92.4h11.2l-5.6 11.0zM306.3 92.3h11.2l-5.6 11.0zM309 92.1h11.2l-5.6 11.0zM311.6 92h11.2l-5.6 11.0zM314.2 91.8h11.2l-5.6 11.0zM316.9 91.7h11.2l-5.6 11.0zM319.5 91.5h11.2l-5.6 11.0zM322.2 91.3h11.2l-5.6 11.0zM324.8 91.2h11.2l-5.6 11.0zM327.4 91h11.2l-5.6 11.0zM330.1 90.8h11.2l-5.6 11.0zM332.7 90.6h11.2l-5.6 11.0zM335.4 90.4h11.2l-5.6 11.0zM338 90.1h11.2l-5.6 11.0zM340.6 89.9h11.2l-5.6 11.0zM343.3 89.7h11.2l-5.6 11.0zM345.9 89.4h11.2l-5.6 11.0zM348.5 89.1h11.2l-5.6 11.0zM351.2 88.8h11.2l-5.6 11.0zM353.8 88.4h11.2l-5.6 11.0zM356.5 88h11.2l-5.6 11.0zM359.1 87.5h11.2l-5.6 11.0zM361.7 87.1h11.2l-5.6 11.0zM364.4 86.7h11.2l-5.6 11.0zM367 86.2h11.2l-5.6 11.0zM369.7 85.8h11.2l-5.6 11.0zM372.3 85.5h11.2l-5.6 11.0zM374.9 85.1h11.2l-5.6 11.0zM377.6 84.8h11.2l-5.6 11.0zM380.2 84.4h11.2l-5.6 11.0zM382.9 84.2h11.2l-5.6 11.0zM385.5 84.1h11.2l-5.6 11.0zM388.1 85.2h11.2l-5.6 11.0zM390.8 87.2h11.2l-5.6 11.0zM393.4 93.8h11.2l-5.6 11.0zM440.9 162.2h11.2l-5.6 11.0zM446.2 330h11.2l-5.6 11.0zM456.7 74.3h11.2l-5.6 11.0zM459.4 79.5h11.2l-5.6 11.0zM462 83.2h11.2l-5.6 11.0zM464.7 86.7h11.2l-5.6 11.0zM467.3 89.7h11.2l-5.6 11.0zM469.9 92.1h11.2l-5.6 11.0zM472.6 94h11.2l-5.6 11.0zM475.2 96h11.2l-5.6 11.0zM477.9 97.4h11.2l-5.6 11.0zM480.5 98.5h11.2l-5.6 11.0zM483.1 99.3h11.2l-5.6 11.0zM485.8 92.5h11.2l-5.6 11.0zM491.1 108.7h11.2l-5.6 11.0zM488.4 97.7h11.2l-5.6 11.0zM493.7 98h11.2l-5.6 11.0zM496.3 98.1h11.2l-5.6 11.0zM499 98.3h11.2l-5.6 11.0zM501.6 98.5h11.2l-5.6 11.0zM504.2 98.7h11.2l-5.6 11.0zM506.9 98.9h11.2l-5.6 11.0zM509.5 99.1h11.2l-5.6 11.0zM512.2 99.2h11.2l-5.6 11.0zM514.8 99.3h11.2l-5.6 11.0zM517.4 99.4h11.2l-5.6 11.0zM520.1 99.4h11.2l-5.6 11.0zM522.7 99.4h11.2l-5.6 11.0zM525.4 99.4h11.2l-5.6 11.0zM528 99.5h11.2l-5.6 11.0zM530.6 99.5h11.2l-5.6 11.0zM533.3 99.5h11.2l-5.6 11.0zM535.9 99.5h11.2l-5.6 11.0zM538.6 99.5h11.2l-5.6 11.0zM541.2 99.5h11.2l-5.6 11.0zM543.8 99.5h11.2l-5.6 11.0zM546.5 99.5h11.2l-5.6 11.0zM549.1 99.6h11.2l-5.6 11.0zM551.8 99.6h11.2l-5.6 11.0zM554.4 99.6h11.2l-5.6 11.0zM557 99.6h11.2l-5.6 11.0zM559.7 99.6h11.2l-5.6 11.0zM562.3 99.6h11.2l-5.6 11.0zM564.9 99.6h11.2l-5.6 11.0zM567.6 99.6h11.2l-5.6 11.0zM570.2 99.6h11.2l-5.6 11.0zM572.9 99.6h11.2l-5.6 11.0zM575.5 99.6h11.2l-5.6 11.0zM578.1 99.6h11.2l-5.6 11.0zM580.8 99.7h11.2l-5.6 11.0zM583.4 99.7h11.2l-5.6 11.0zM586.1 99.7h11.2l-5.6 11.0zM588.7 99.7h11.2l-5.6 11.0zM591.3 99.7h11.2l-5.6 11.0zM594 99.7h11.2l-5.6 11.0zM596.6 99.7h11.2l-5.6 11.0zM599.3 99.7h11.2l-5.6 11.0zM601.9 99.7h11.2l-5.6 11.0zM604.5 99.7h11.2l-5.6 11.0zM607.2 99.7h11.2l-5.6 11.0zM609.8 99.7h11.2l-5.6 11.0zM612.4 99.7h11.2l-5.6 11.0zM615.1 99.7h11.2l-5.6 11.0zM617.7 99.7h11.2l-5.6 11.0zM620.4 99.7h11.2l-5.6 11.0zM623 99.7h11.2l-5.6 11.0zM625.6 99.7h11.2l-5.6 11.0zM628.3 99.7h11.2l-5.6 11.0zM630.9 99.7h11.2l-5.6 11.0zM633.6 99.7h11.2l-5.6 11.0zM636.2 99.7h11.2l-5.6 11.0z"/>
<path fill="none" stroke="#8826f5" stroke-width="1.15" d="M108.2 90.3a5.75 5.75 0 1 0 11.5 0a5.75 5.75 0 1 0 -11.5 0zM110.9 90.3a5.75 5.75 0 1 0 11.5 0a5.75 5.75 0 1 0 -11.5 0zM113.5 90.3a5.75 5.75 0 1 0 11.5 0a5.75 5.75 0 1 0 -11.5 0zM116.2 90.3a5.75 5.75 0 1 0 11.5 0a5.75 5.75 0 1 0 -11.5 0zM118.8 90.3a5.75 5.75 0 1 0 11.5 0a5.75 5.75 0 1 0 -11.5 0zM121.4 90.3a5.75 5.75 0 1 0 11.5 0a5.75 5.75 0 1 0 -11.5 0zM124.1 90.3a5.75 5.75 0 1 0 11.5 0a5.75 5.75 0 1 0 -11.5 0zM126.7 90.3a5.75 5.75 0 1 0 11.5 0a5.75 5.75 0 1 0 -11.5 0zM129.4 90.3a5.75 5.75 0 1 0 11.5 0a5.75 5.75 0 1 0 -11.5 0zM132 90.2a5.75 5.75 0 1 0 11.5 0a5.75 5.75 0 1 0 -11.5 0zM134.6 90.2a5.75 5.75 0 1 0 11.5 0a5.75 5.75 0 1 0 -11.5 0zM137.3 90.2a5.75 5.75 0 1 0 11.5 0a5.75 5.75 0 1 0 -11.5 0zM139.9 90.2a5.75 5.75 0 1 0 11.5 0a5.75 5.75 0 1 0 -11.5 0zM142.6 90.2a5.75 5.75 0 1 0 11.5 0a5.75 5.75 0 1 0 -11.5 0zM145.2 90.2a5.75 5.75 0 1 0 11.5 0a5.75 5.75 0 1 0 -11.5 0zM147.8 90.2a5.75 5.75 0 1 0 11.5 0a5.75 5.75 0 1 0 -11.5 0zM150.5 90.1a5.75 5.75 0 1 0 11.5 0a5.75 5.75 0 1 0 -11.5 0zM153.1 90.1a5.75 5.75 0 1 0 11.5 0a5.75 5.75 0 1 0 -11.5 0zM155.8 90.1a5.75 5.75 0 1 0 11.5 0a5.75 5.75 0 1 0 -11.5 0zM158.4 90.1a5.75 5.75 0 1 0 11.5 0a5.75 5.75 0 1 0 -11.5 0zM161 90a5.75 5.75 0 1 0 11.5 0a5.75 5.75 0 1 0 -11.5 0zM163.7 90a5.75 5.75 0 1 0 11.5 0a5.75 5.75 0 1 0 -11.5 0zM166.3 90a5.75 5.75 0 1 0 11.5 0a5.75 5.75 0 1 0 -11.5 0zM168.9 90a5.75 5.75 0 1 0 11.5 0a5.75 5.75 0 1 0 -11.5 0zM171.6 89.9a5.75 5.75 0 1 0 11.5 0a5.75 5.75 0 1 0 -11.5 0zM174.2 89.9a5.75 5.75 0 1 0 11.5 0a5.75 5.75 0 1 0 -11.5 0zM176.9 89.9a5.75 5.75 0 1 0 11.5 0a5.75 5.75 0 1 0 -11.5 0zM179.5 89.8a5.75 5.75 0 1 0 11.5 0a5.75 5.75 0 1 0 -11.5 0zM182.1 89.8a5.75 5.75 0 1 0 11.5 0a5.75 5.75 0 1 0 -11.5 0zM184.8 89.8a5.75 5.75 0 1 0 11.5 0a5.75 5.75 0 1 0 -11.5 0zM187.4 89.7a5.75 5.75 0 1 0 11.5 0a5.75 5.75 0 1 0 -11.5 0zM190.1 89.7a5.75 5.75 0 1 0 11.5 0a5.75 5.75 0 1 0 -11.5 0zM192.7 89.7a5.75 5.75 0 1 0 11.5 0a5.75 5.75 0 1 0 -11.5 0zM195.3 89.6a5.75 5.75 0 1 0 11.5 0a5.75 5.75 0 1 0 -11.5 0zM198 89.6a5.75 5.75 0 1 0 11.5 0a5.75 5.75 0 1 0 -11.5 0zM200.6 89.6a5.75 5.75 0 1 0 11.5 0a5.75 5.75 0 1 0 -11.5 0zM203.3 89.5a5.75 5.75 0 1 0 11.5 0a5.75 5.75 0 1 0 -11.5 0zM205.9 89.5a5.75 5.75 0 1 0 11.5 0a5.75 5.75 0 1 0 -11.5 0zM208.5 89.4a5.75 5.75 0 1 0 11.5 0a5.75 5.75 0 1 0 -11.5 0zM211.2 89.4a5.75 5.75 0 1 0 11.5 0a5.75 5.75 0 1 0 -11.5 0zM213.8 89.4a5.75 5.75 0 1 0 11.5 0a5.75 5.75 0 1 0 -11.5 0zM216.4 89.3a5.75 5.75 0 1 0 11.5 0a5.75 5.75 0 1 0 -11.5 0zM219.1 89.3a5.75 5.75 0 1 0 11.5 0a5.75 5.75 0 1 0 -11.5 0zM221.7 89.2a5.75 5.75 0 1 0 11.5 0a5.75 5.75 0 1 0 -11.5 0zM224.4 89.2a5.75 5.75 0 1 0 11.5 0a5.75 5.75 0 1 0 -11.5 0zM227 89.1a5.75 5.75 0 1 0 11.5 0a5.75 5.75 0 1 0 -11.5 0zM229.6 89.1a5.75 5.75 0 1 0 11.5 0a5.75 5.75 0 1 0 -11.5 0zM232.3 89a5.75 5.75 0 1 0 11.5 0a5.75 5.75 0 1 0 -11.5 0zM234.9 89a5.75 5.75 0 1 0 11.5 0a5.75 5.75 0 1 0 -11.5 0zM237.6 88.9a5.75 5.75 0 1 0 11.5 0a5.75 5.75 0 1 0 -11.5 0zM240.2 88.9a5.75 5.75 0 1 0 11.5 0a5.75 5.75 0 1 0 -11.5 0zM242.8 88.8a5.75 5.75 0 1 0 11.5 0a5.75 5.75 0 1 0 -11.5 0zM245.5 88.8a5.75 5.75 0 1 0 11.5 0a5.75 5.75 0 1 0 -11.5 0zM248.1 88.7a5.75 5.75 0 1 0 11.5 0a5.75 5.75 0 1 0 -11.5 0zM250.8 88.6a5.75 5.75 0 1 0 11.5 0a5.75 5.75 0 1 0 -11.5 0zM253.4 88.5a5.75 5.75 0 1 0 11.5 0a5.75 5.75 0 1 0 -11.5 0zM256 88.4a5.75 5.75 0 1 0 11.5 0a5.75 5.75 0 1 0 -11.5 0zM258.7 88.3a5.75 5.75 0 1 0 11.5 0a5.75 5.75 0 1 0 -11.5 0zM261.3 88.2a5.75 5.75 0 1 0 11.5 0a5.75 5.75 0 1 0 -11.5 0zM264 88.1a5.75 5.75 0 1 0 11.5 0a5.75 5.75 0 1 0 -11.5 0zM266.6 88a5.75 5.75 0 1 0 11.5 0a5.75 5.75 0 1 0 -11.5 0zM269.2 87.9a5.75 5.75 0 1 0 11.5 0a5.75 5.75 0 1 0 -11.5 0zM271.9 87.8a5.75 5.75 0 1 0 11.5 0a5.75 5.75 0 1 0 -11.5 0zM274.5 87.6a5.75 5.75 0 1 0 11.5 0a5.75 5.75 0 1 0 -11.5 0zM277.1 87.5a5.75 5.75 0 1 0 11.5 0a5.75 5.75 0 1 0 -11.5 0zM279.8 87.4a5.75 5.75 0 1 0 11.5 0a5.75 5.75 0 1 0 -11.5 0zM282.4 87.2a5.75 5.75 0 1 0 11.5 0a5.75 5.75 0 1 0 -11.5 0zM285.1 87.1a5.75 5.75 0 1 0 11.5 0a5.75 5.75 0 1 0 -11.5 0zM287.7 86.9a5.75 5.75 0 1 0 11.5 0a5.75 5.75 0 1 0 -11.5 0zM290.3 86.8a5.75 5.75 0 1 0 11.5 0a5.75 5.75 0 1 0 -11.5 0zM293 86.7a5.75 5.75 0 1 0 11.5 0a5.75 5.75 0 1 0 -11.5 0zM295.6 86.5a5.75 5.75 0 1 0 11.5 0a5.75 5.75 0 1 0 -11.5 0zM298.3 86.4a5.75 5.75 0 1 0 11.5 0a5.75 5.75 0 1 0 -11.5 0zM300.9 86.3a5.75 5.75 0 1 0 11.5 0a5.75 5.75 0 1 0 -11.5 0zM303.5 86.1a5.75 5.75 0 1 0 11.5 0a5.75 5.75 0 1 0 -11.5 0zM306.2 86a5.75 5.75 0 1 0 11.5 0a5.75 5.75 0 1 0 -11.5 0zM308.8 85.8a5.75 5.75 0 1 0 11.5 0a5.75 5.75 0 1 0 -11.5 0zM311.5 85.7a5.75 5.75 0 1 0 11.5 0a5.75 5.75 0 1 0 -11.5 0zM314.1 85.5a5.75 5.75 0 1 0 11.5 0a5.75 5.75 0 1 0 -11.5 0zM316.7 85.3a5.75 5.75 0 1 0 11.5 0a5.75 5.75 0 1 0 -11.5 0zM319.4 85.2a5.75 5.75 0 1 0 11.5 0a5.75 5.75 0 1 0 -11.5 0zM322 85a5.75 5.75 0 1 0 11.5 0a5.75 5.75 0 1 0 -11.5 0zM324.6 84.8a5.75 5.75 0 1 0 11.5 0a5.75 5.75 0 1 0 -11.5 0zM327.3 84.6a5.75 5.75 0 1 0 11.5 0a5.75 5.75 0 1 0 -11.5 0zM329.9 84.3a5.75 5.75 0 1 0 11.5 0a5.75 5.75 0 1 0 -11.5 0zM332.6 84.1a5.75 5.75 0 1 0 11.5 0a5.75 5.75 0 1 0 -11.5 0zM335.2 83.8a5.75 5.75 0 1 0 11.5 0a5.75 5.75 0 1 0 -11.5 0zM337.8 83.5a5.75 5.75 0 1 0 11.5 0a5.75 5.75 0 1 0 -11.5 0zM340.5 83.1a5.75 5.75 0 1 0 11.5 0a5.75 5.75 0 1 0 -11.5 0zM343.1 82.8a5.75 5.75 0 1 0 11.5 0a5.75 5.75 0 1 0 -11.5 0zM345.8 82.4a5.75 5.75 0 1 0 11.5 0a5.75 5.75 0 1 0 -11.5 0zM348.4 82a5.75 5.75 0 1 0 11.5 0a5.75 5.75 0 1 0 -11.5 0zM351 81.7a5.75 5.75 0 1 0 11.5 0a5.75 5.75 0 1 0 -11.5 0zM353.7 81.3a5.75 5.75 0 1 0 11.5 0a5.75 5.75 0 1 0 -11.5 0zM356.3 80.9a5.75 5.75 0 1 0 11.5 0a5.75 5.75 0 1 0 -11.5 0zM359 80.5a5.75 5.75 0 1 0 11.5 0a5.75 5.75 0 1 0 -11.5 0zM361.6 80.1a5.75 5.75 0 1 0 11.5 0a5.75 5.75 0 1 0 -11.5 0zM364.2 79.7a5.75 5.75 0 1 0 11.5 0a5.75 5.75 0 1 0 -11.5 0zM366.9 79.2a5.75 5.75 0 1 0 11.5 0a5.75 5.75 0 1 0 -11.5 0zM369.5 78.7a5.75 5.75 0 1 0 11.5 0a5.75 5.75 0 1 0 -11.5 0zM372.1 78.4a5.75 5.75 0 1 0 11.5 0a5.75 5.75 0 1 0 -11.5 0zM374.8 78.2a5.75 5.75 0 1 0 11.5 0a5.75 5.75 0 1 0 -11.5 0zM377.4 77.9a5.75 5.75 0 1 0 11.5 0a5.75 5.75 0 1 0 -11.5 0zM380.1 77.8a5.75 5.75 0 1 0 11.5 0a5.75 5.75 0 1 0 -11.5 0zM382.7 77.7a5.75 5.75 0 1 0 11.5 0a5.75 5.75 0 1 0 -11.5 0zM385.3 78a5.75 5.75 0 1 0 11.5 0a5.75 5.75 0 1 0 -11.5 0zM388 78.8a5.75 5.75 0 1 0 11.5 0a5.75 5.75 0 1 0 -11.5 0zM390.6 83a5.75 5.75 0 1 0 11.5 0a5.75 5.75 0 1 0 -11.5 0zM393.3 91.2a5.75 5.75 0 1 0 11.5 0a5.75 5.75 0 1 0 -11.5 0zM456.6 85.4a5.75 5.75 0 1 0 11.5 0a5.75 5.75 0 1 0 -11.5 0zM459.2 90.5a5.75 5.75 0 1 0 11.5 0a5.75 5.75 0 1 0 -11.5 0zM461.9 95.3a5.75 5.75 0 1 0 11.5 0a5.75 5.75 0 1 0 -11.5 0zM464.5 98.6a5.75 5.75 0 1 0 11.5 0a5.75 5.75 0 1 0 -11.5 0zM467.2 101.3a5.75 5.75 0 1 0 11.5 0a5.75 5.75 0 1 0 -11.5 0zM469.8 103.7a5.75 5.75 0 1 0 11.5 0a5.75 5.75 0 1 0 -11.5 0zM472.4 105.8a5.75 5.75 0 1 0 11.5 0a5.75 5.75 0 1 0 -11.5 0zM475.1 107.6a5.75 5.75 0 1 0 11.5 0a5.75 5.75 0 1 0 -11.5 0zM477.7 109.3a5.75 5.75 0 1 0 11.5 0a5.75 5.75 0 1 0 -11.5 0zM480.3 110.8a5.75 5.75 0 1 0 11.5 0a5.75 5.75 0 1 0 -11.5 0zM483 112.3a5.75 5.75 0 1 0 11.5 0a5.75 5.75 0 1 0 -11.5 0zM485.6 113.8a5.75 5.75 0 1 0 11.5 0a5.75 5.75 0 1 0 -11.5 0zM488.3 115.3a5.75 5.75 0 1 0 11.5 0a5.75 5.75 0 1 0 -11.5 0zM490.9 116.7a5.75 5.75 0 1 0 11.5 0a5.75 5.75 0 1 0 -11.5 0zM493.5 118a5.75 5.75 0 1 0 11.5 0a5.75 5.75 0 1 0 -11.5 0zM496.1 81.7a5.75 5.75 0 1 0 11.5 0a5.75 5.75 0 1 0 -11.5 0zM498.6 88.3a5.75 5.75 0 1 0 11.5 0a5.75 5.75 0 1 0 -11.5 0zM512.8 88.4a5.75 5.75 0 1 0 11.5 0a5.75 5.75 0 1 0 -11.5 0zM515.2 88.4a5.75 5.75 0 1 0 11.5 0a5.75 5.75 0 1 0 -11.5 0zM517.9 88.1a5.75 5.75 0 1 0 11.5 0a5.75 5.75 0 1 0 -11.5 0zM501.6 131a5.75 5.75 0 1 0 11.5 0a5.75 5.75 0 1 0 -11.5 0zM620 149.8a5.75 5.75 0 1 0 11.5 0a5.75 5.75 0 1 0 -11.5 0zM623.5 152.1a5.75 5.75 0 1 0 11.5 0a5.75 5.75 0 1 0 -11.5 0zM562.2 99.5a5.75 5.75 0 1 0 11.5 0a5.75 5.75 0 1 0 -11.5 0zM564.8 98.3a5.75 5.75 0 1 0 11.5 0a5.75 5.75 0 1 0 -11.5 0zM567.4 97.5a5.75 5.75 0 1 0 11.5 0a5.75 5.75 0 1 0 -11.5 0zM570.1 97.1a5.75 5.75 0 1 0 11.5 0a5.75 5.75 0 1 0 -11.5 0zM572.7 96.8a5.75 5.75 0 1 0 11.5 0a5.75 5.75 0 1 0 -11.5 0zM575.4 96.7a5.75 5.75 0 1 0 11.5 0a5.75 5.75 0 1 0 -11.5 0zM578 96.6a5.75 5.75 0 1 0 11.5 0a5.75 5.75 0 1 0 -11.5 0zM580.6 96.6a5.75 5.75 0 1 0 11.5 0a5.75 5.75 0 1 0 -11.5 0zM583.3 96.5a5.75 5.75 0 1 0 11.5 0a5.75 5.75 0 1 0 -11.5 0zM585.9 96.4a5.75 5.75 0 1 0 11.5 0a5.75 5.75 0 1 0 -11.5 0zM588.5 96.4a5.75 5.75 0 1 0 11.5 0a5.75 5.75 0 1 0 -11.5 0zM591.2 96.3a5.75 5.75 0 1 0 11.5 0a5.75 5.75 0 1 0 -11.5 0zM593.8 96.2a5.75 5.75 0 1 0 11.5 0a5.75 5.75 0 1 0 -11.5 0zM596.5 96.2a5.75 5.75 0 1 0 11.5 0a5.75 5.75 0 1 0 -11.5 0zM599.1 96.1a5.75 5.75 0 1 0 11.5 0a5.75 5.75 0 1 0 -11.5 0zM601.7 96a5.75 5.75 0 1 0 11.5 0a5.75 5.75 0 1 0 -11.5 0zM604.4 96a5.75 5.75 0 1 0 11.5 0a5.75 5.75 0 1 0 -11.5 0zM607 95.9a5.75 5.75 0 1 0 11.5 0a5.75 5.75 0 1 0 -11.5 0zM609.7 95.9a5.75 5.75 0 1 0 11.5 0a5.75 5.75 0 1 0 -11.5 0zM612.3 95.8a5.75 5.75 0 1 0 11.5 0a5.75 5.75 0 1 0 -11.5 0zM614.9 95.8a5.75 5.75 0 1 0 11.5 0a5.75 5.75 0 1 0 -11.5 0zM625.5 95.7a5.75 5.75 0 1 0 11.5 0a5.75 5.75 0 1 0 -11.5 0zM628.1 95.7a5.75 5.75 0 1 0 11.5 0a5.75 5.75 0 1 0 -11.5 0zM630.8 95.6a5.75 5.75 0 1 0 11.5 0a5.75 5.75 0 1 0 -11.5 0zM633.4 95.6a5.75 5.75 0 1 0 11.5 0a5.75 5.75 0 1 0 -11.5 0zM636 95.6a5.75 5.75 0 1 0 11.5 0a5.75 5.75 0 1 0 -11.5 0z"/>
<path fill="none" stroke="#86500a" stroke-width="0.95" d="M153.9 72.5h9.9v9.9h-9.9zM156.6 72.4h9.9v9.9h-9.9zM161.8 72.4h9.9v9.9h-9.9zM164.5 72.4h9.9v9.9h-9.9zM167.1 72.4h9.9v9.9h-9.9zM169.7 72.4h9.9v9.9h-9.9zM172.4 72.4h9.9v9.9h-9.9zM175 72.4h9.9v9.9h-9.9zM177.7 72.3h9.9v9.9h-9.9zM180.3 72.3h9.9v9.9h-9.9zM182.9 72.3h9.9v9.9h-9.9zM185.6 72.3h9.9v9.9h-9.9zM188.2 72.2h9.9v9.9h-9.9zM190.9 72.2h9.9v9.9h-9.9zM193.5 72.2h9.9v9.9h-9.9zM196.1 72.1h9.9v9.9h-9.9zM198.8 72.1h9.9v9.9h-9.9zM201.4 72.1h9.9v9.9h-9.9zM204.1 72h9.9v9.9h-9.9zM206.7 72h9.9v9.9h-9.9zM209.3 71.9h9.9v9.9h-9.9zM212 71.9h9.9v9.9h-9.9zM214.6 71.9h9.9v9.9h-9.9zM217.2 71.8h9.9v9.9h-9.9zM219.9 71.8h9.9v9.9h-9.9zM222.5 71.7h9.9v9.9h-9.9zM225.2 71.7h9.9v9.9h-9.9zM227.8 71.6h9.9v9.9h-9.9zM230.4 71.6h9.9v9.9h-9.9zM233.1 71.5h9.9v9.9h-9.9zM235.7 71.5h9.9v9.9h-9.9zM238.4 71.4h9.9v9.9h-9.9zM241 71.4h9.9v9.9h-9.9zM243.6 71.3h9.9v9.9h-9.9zM246.3 71.2h9.9v9.9h-9.9zM248.9 71.2h9.9v9.9h-9.9zM251.6 71.1h9.9v9.9h-9.9zM254.2 71.1h9.9v9.9h-9.9zM256.8 71h9.9v9.9h-9.9zM259.5 71h9.9v9.9h-9.9zM262.1 70.9h9.9v9.9h-9.9zM264.8 70.8h9.9v9.9h-9.9zM267.4 70.7h9.9v9.9h-9.9zM270 70.6h9.9v9.9h-9.9zM272.7 70.6h9.9v9.9h-9.9zM275.3 70.5h9.9v9.9h-9.9zM277.9 70.4h9.9v9.9h-9.9zM280.6 70.3h9.9v9.9h-9.9zM283.2 70.2h9.9v9.9h-9.9zM285.9 70h9.9v9.9h-9.9zM288.5 69.9h9.9v9.9h-9.9zM291.1 69.8h9.9v9.9h-9.9zM293.8 69.7h9.9v9.9h-9.9zM296.4 69.5h9.9v9.9h-9.9zM299.1 69.4h9.9v9.9h-9.9zM301.7 69.3h9.9v9.9h-9.9zM304.3 69.1h9.9v9.9h-9.9zM307 69h9.9v9.9h-9.9zM309.6 68.8h9.9v9.9h-9.9zM312.3 68.6h9.9v9.9h-9.9zM314.9 68.5h9.9v9.9h-9.9zM317.5 68.3h9.9v9.9h-9.9zM320.2 68.1h9.9v9.9h-9.9zM322.8 68h9.9v9.9h-9.9zM325.4 67.8h9.9v9.9h-9.9zM328.1 67.6h9.9v9.9h-9.9zM330.7 67.4h9.9v9.9h-9.9zM333.4 67.2h9.9v9.9h-9.9zM336 67.1h9.9v9.9h-9.9zM338.6 66.9h9.9v9.9h-9.9zM341.3 66.7h9.9v9.9h-9.9zM343.9 66.5h9.9v9.9h-9.9zM346.6 66.3h9.9v9.9h-9.9zM349.2 66.2h9.9v9.9h-9.9zM351.8 66h9.9v9.9h-9.9zM354.5 65.7h9.9v9.9h-9.9zM357.1 65.5h9.9v9.9h-9.9zM359.8 65.3h9.9v9.9h-9.9zM362.4 65.1h9.9v9.9h-9.9zM365 64.9h9.9v9.9h-9.9zM367.7 64.7h9.9v9.9h-9.9zM370.3 64.6h9.9v9.9h-9.9zM372.9 64.5h9.9v9.9h-9.9zM375.6 64.5h9.9v9.9h-9.9zM378.2 64.5h9.9v9.9h-9.9zM380.9 64.5h9.9v9.9h-9.9zM383.5 64.6h9.9v9.9h-9.9zM386.1 67h9.9v9.9h-9.9zM391.4 75.8h9.9v9.9h-9.9zM394.1 83.8h9.9v9.9h-9.9zM491.7 100h9.9v9.9h-9.9z"/>
<path fill="none" stroke="#2ecc14" stroke-width="1.3" d="M378 57.3l4.7 5.2l-4.7 5.2l-4.7 -5.2z"/>
</g>
<g stroke="#000" stroke-width="0.9" stroke-opacity="0.07"><line x1="245.9" x2="245.9" y1="5.8" y2="332.5"/><line x1="509.8" x2="509.8" y1="5.8" y2="332.5"/><line x1="114" x2="642" y1="319.5" y2="319.5"/><line x1="114" x2="642" y1="267.2" y2="267.2"/><line x1="114" x2="642" y1="214.9" y2="214.9"/><line x1="114" x2="642" y1="162.6" y2="162.6"/><line x1="114" x2="642" y1="110.4" y2="110.4"/><line x1="114" x2="642" y1="58.1" y2="58.1"/></g><line x1="377.9" x2="377.9" y1="5.8" y2="332.5" stroke="#1e1e1e" stroke-opacity="0.75" stroke-width="1.15"/>
<path fill="none" stroke="#505050" stroke-width="0.9" d="M114 332.5v-6.5M114 5.8v6.5M140.4 332.5v-3.8M140.4 5.8v3.8M166.8 332.5v-3.8M166.8 5.8v3.8M193.2 332.5v-3.8M193.2 5.8v3.8M219.6 332.5v-3.8M219.6 5.8v3.8M245.9 332.5v-6.5M245.9 5.8v6.5M272.3 332.5v-3.8M272.3 5.8v3.8M298.7 332.5v-3.8M298.7 5.8v3.8M325.1 332.5v-3.8M325.1 5.8v3.8M351.5 332.5v-3.8M351.5 5.8v3.8M377.9 332.5v-6.5M377.9 5.8v6.5M404.3 332.5v-3.8M404.3 5.8v3.8M430.7 332.5v-3.8M430.7 5.8v3.8M457.1 332.5v-3.8M457.1 5.8v3.8M483.5 332.5v-3.8M483.5 5.8v3.8M509.8 332.5v-6.5M509.8 5.8v6.5M536.2 332.5v-3.8M536.2 5.8v3.8M562.6 332.5v-3.8M562.6 5.8v3.8M589 332.5v-3.8M589 5.8v3.8M615.4 332.5v-3.8M615.4 5.8v3.8M641.8 332.5v-6.5M641.8 5.8v6.5M114 332.6h3.4M642 332.6h-3.4M114 319.5h5.5M642 319.5h-5.5M114 306.4h3.4M642 306.4h-3.4M114 293.3h3.4M642 293.3h-3.4M114 280.3h3.4M642 280.3h-3.4M114 267.2h5.5M642 267.2h-5.5M114 254.1h3.4M642 254.1h-3.4M114 241.1h3.4M642 241.1h-3.4M114 228h3.4M642 228h-3.4M114 214.9h5.5M642 214.9h-5.5M114 201.8h3.4M642 201.8h-3.4M114 188.8h3.4M642 188.8h-3.4M114 175.7h3.4M642 175.7h-3.4M114 162.6h5.5M642 162.6h-5.5M114 149.6h3.4M642 149.6h-3.4M114 136.5h3.4M642 136.5h-3.4M114 123.4h3.4M642 123.4h-3.4M114 110.4h5.5M642 110.4h-5.5M114 97.3h3.4M642 97.3h-3.4M114 84.2h3.4M642 84.2h-3.4M114 71.2h3.4M642 71.2h-3.4M114 58.1h5.5M642 58.1h-5.5M114 45h3.4M642 45h-3.4M114 31.9h3.4M642 31.9h-3.4M114 18.9h3.4M642 18.9h-3.4M114 5.8h5.5M642 5.8h-5.5"/>
<g font-family="'Liberation Serif',serif" font-size="18.4" fill="#000"><text x="78.3" y="325.7" textLength="29.3" lengthAdjust="spacingAndGlyphs">0.88</text><text x="78.3" y="273.4" textLength="29.3" lengthAdjust="spacingAndGlyphs">0.90</text><text x="78.3" y="221.1" textLength="29.3" lengthAdjust="spacingAndGlyphs">0.92</text><text x="78.3" y="168.8" textLength="29.3" lengthAdjust="spacingAndGlyphs">0.94</text><text x="78.3" y="116.6" textLength="29.3" lengthAdjust="spacingAndGlyphs">0.96</text><text x="78.3" y="64.3" textLength="29.3" lengthAdjust="spacingAndGlyphs">0.98</text><text x="80" y="12" textLength="28.3" lengthAdjust="spacingAndGlyphs">1.00</text><text x="100.9" y="355" textLength="26.9" lengthAdjust="spacingAndGlyphs">−10</text><text x="236.5" y="355" textLength="17.7" lengthAdjust="spacingAndGlyphs">−5</text><text x="373.9" y="355" textLength="8.5" lengthAdjust="spacingAndGlyphs">0</text><text x="505.9" y="355" textLength="8" lengthAdjust="spacingAndGlyphs">5</text><text x="635.5" y="355" textLength="14.2" lengthAdjust="spacingAndGlyphs">10</text></g>
<line x1="70.5" y1="65.5" x2="107.5" y2="79" stroke="#8826f5" stroke-width="1.8"/><path fill="#8826f5" d="M120.4 83.7L104.5 82.8L107.5 79L107.6 74.1z"/><line x1="72.9" y1="94.1" x2="98.6" y2="100" stroke="#2147e0" stroke-width="1.8"/><path fill="#2147e0" d="M112 103.1L96.1 104.2L98.6 100L98.1 95.2z"/><line x1="70.2" y1="130.7" x2="92.5" y2="130.7" stroke="#2ecc14" stroke-width="1.8"/><path fill="#2ecc14" d="M106.3 130.7L91 135.3L92.5 130.7L91 126.1z"/><line x1="341.2" y1="40.9" x2="360.2" y2="53.1" stroke="#2ecc14" stroke-width="1.8"/><path fill="#2ecc14" d="M371.8 60.5L356.4 56.1L360.2 53.1L361.4 48.4z"/>
</svg>
</body></html>
